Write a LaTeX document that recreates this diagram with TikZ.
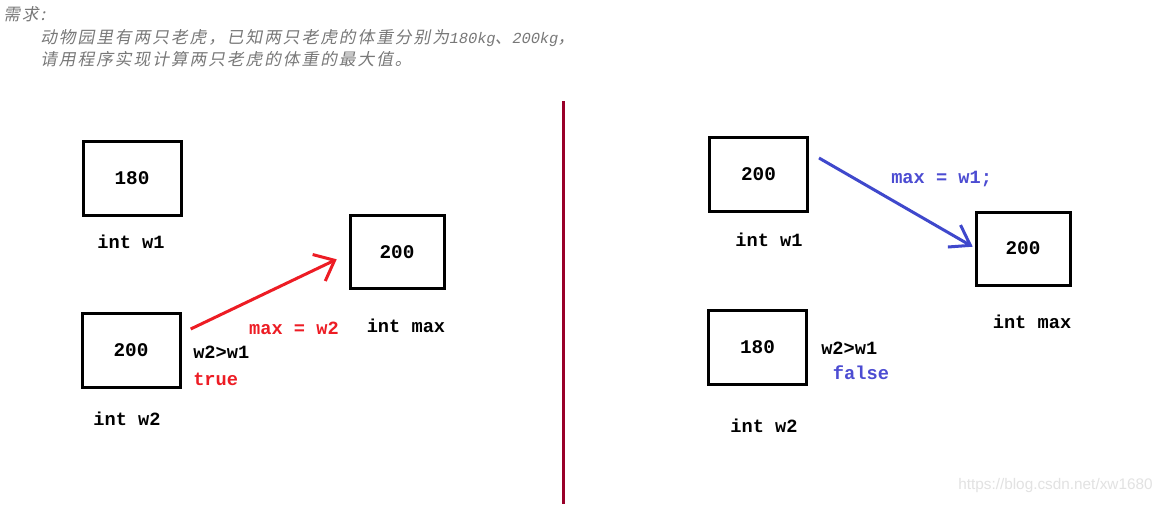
\documentclass[tikz,border=0pt]{standalone}
\usepackage{fontspec}
\usetikzlibrary{arrows.meta}
\newfontfamily\cjkfont[FakeSlant=0.2,LetterSpace=12]{Noto Sans CJK SC}
\newfontfamily\hdrmono[FakeSlant=0.2]{Liberation Mono}
\newfontfamily\codefont{Liberation Mono}
\newfontfamily\wmfont{Liberation Sans}
\definecolor{hdrgray}{RGB}{120,120,120}
\definecolor{pred}{RGB}{237,28,36}
\definecolor{pblue}{RGB}{63,72,204}
\definecolor{tblue}{RGB}{76,76,210}
\definecolor{divred}{RGB}{153,0,41}
\definecolor{wmgray}{RGB}{226,226,226}
\tikzset{
  varbox/.style={draw=black, line width=2.25pt, minimum width=73.5pt, minimum height=55.5pt, inner sep=0pt, font=\codefont\fontsize{14.5}{16}\selectfont\bfseries},
  maxbox/.style={varbox, minimum width=70.5pt, minimum height=54.75pt},
  code/.style={inner sep=0pt, font=\codefont\fontsize{14}{16}\selectfont\bfseries},
  hdr/.style={inner sep=0pt, anchor=west, text=hdrgray, font=\cjkfont\fontsize{12.5}{14}\selectfont},
  redarrow/.style={draw=pred, line width=2.25pt, -{Straight Barb[length=13pt,width=22pt]}},
  bluearrow/.style={draw=pblue, line width=2.25pt, -{Straight Barb[length=14pt,width=19pt]}}
}
\begin{document}
\begin{tikzpicture}[x=0.75pt,y=-0.75pt]
\fill[white] (0,0) rectangle (1168,504);
\useasboundingbox (0,0) rectangle (1168,504);
% header
\node[hdr] (h1) at (3,14) {需求:};
\node[hdr] (h2) at (40,38) {动物园里有两只老虎，已知两只老虎的体重分别为{\hdrmono\fontsize{11.5}{13}\selectfont 180kg}、{\hdrmono\fontsize{11.5}{13}\selectfont 200kg}，};
\node[hdr] (h3) at (40,59) {请用程序实现计算两只老虎的体重的最大值。};
% divider
\draw[divred, line width=2.25pt] (563.5,101) -- (563.5,504);
% left side
\node[varbox] (Lw1) at (132,178.5) {180};
\node[code] (Lw1lab) at (131,242) {int w1};
\node[varbox] (Lw2) at (131,350.5) {200};
\node[code] (Lw2lab) at (127,419) {int w2};
\node[maxbox] (Lmax) at (397,252) {200};
\node[code] (Lmaxlab) at (406,326) {int max};
\coordinate (ra) at (190.7,329);
\coordinate (rb) at (336.7,259.3);
\draw[redarrow] (ra) -- (rb);
\node[code, text=pred] (Lassign) at (294,328) {max = w2};
\node[code, anchor=west] (Lcond) at (193,352.5) {w2>w1};
\node[code, anchor=west, text=pred] (Ltrue) at (193,379) {true};
% right side
\node[varbox] (Rw1) at (758.5,174.5) {200};
\node[code] (Rw1lab) at (769,240) {int w1};
\node[varbox] (Rw2) at (757.5,347) {180};
\node[code] (Rw2lab) at (764,426) {int w2};
\node[maxbox] (Rmax) at (1023,248.5) {200};
\node[code] (Rmaxlab) at (1032,322) {int max};
\coordinate (ba) at (819,158);
\coordinate (bb) at (972.7,246.7);
\draw[bluearrow] (ba) -- (bb);
\node[code, anchor=west, text=tblue] (Rassign) at (891,179) {max = w1;};
\node[code, anchor=west] (Rcond) at (821,348) {w2>w1};
\node[code, anchor=west, text=tblue] (Rfalse) at (832.7,372.7) {false};
% watermark
\node[inner sep=0pt, anchor=west, text=wmgray, font=\wmfont\fontsize{11.5}{13}\selectfont] (wm) at (958,486) {https://blog.csdn.net/xw1680};
\end{tikzpicture}
\end{document}
